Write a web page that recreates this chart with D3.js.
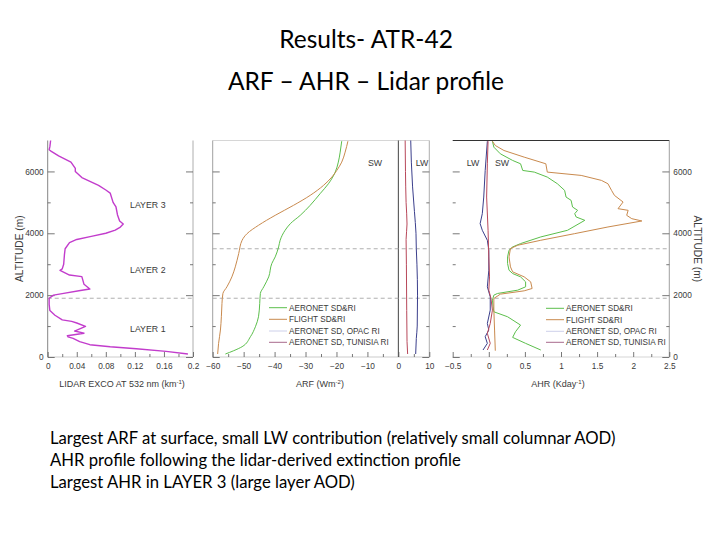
<!DOCTYPE html>
<html><head><meta charset="utf-8">
<script src="https://cdn.jsdelivr.net/npm/d3@7/dist/d3.min.js"></script>
<style>body{margin:0;background:#fff}svg{display:block}</style></head>
<body><svg id="c" width="720" height="540"></svg>
<script>
// ---------- data ----------
const titleLines = ["Results- ATR-42", "ARF \u2013 AHR \u2013 Lidar profile"];
const bodyLines = [
  "Largest ARF at surface, small LW contribution (relatively small columnar AOD)",
  "AHR profile following the lidar-derived extinction profile",
  "Largest AHR in LAYER 3 (large layer AOD)"
];
const altMajor = [0, 2000, 4000, 6000];
const altMinor = [1000, 3000, 5000];
const lidarLabels = [0, 0.04, 0.08, 0.12, 0.16, 0.2];
const lidarMinor = [0.02, 0.06, 0.10, 0.14, 0.18];
const arfLabels = [-60, -50, -40, -30, -20, -10, 0, 10];
const arfMinor = [-55, -45, -35, -25, -15, -5, 5];
const ahrLabels = [-0.5, 0, 0.5, 1, 1.5, 2, 2.5];
const ahrMinor = [-0.25, 0.25, 0.75, 1.25, 1.75, 2.25];
const layerLabels = [["LAYER 3", 4900], ["LAYER 2", 2800], ["LAYER 1", 900]];
const dashAlts = [3500, 1900];
const legendNames = ["AERONET SD&RI", "FLIGHT SD&RI", "AERONET SD, OPAC RI", "AERONET SD, TUNISIA RI"];
const legendColors = ["#5cbf4c", "#c98a4e", "#cdd0ea", "#a86a8c"];

// lidar extinction [km-1, altitude m]
const lidarExt = [[0.004,7000],[0.003,6800],[0.002,6700],[0.005,6650],[0.015,6500],[0.032,6300],[0.038,6100],[0.038,6000],[0.047,5800],[0.07,5550],[0.08,5400],[0.086,5300],[0.09,5000],[0.094,4850],[0.096,4600],[0.099,4400],[0.104,4300],[0.1,4200],[0.093,4100],[0.08,4000],[0.06,3900],[0.04,3800],[0.03,3700],[0.024,3500],[0.023,3300],[0.022,3000],[0.02,2850],[0.017,2800],[0.03,2650],[0.047,2600],[0.05,2350],[0.058,2200],[0.045,2150],[0.02,2050],[0.008,2000],[0.002,1900],[0.002,1700],[0.003,1500],[0.01,1350],[0.02,1200],[0.033,1150],[0.04,1100],[0.052,990],[0.037,840],[0.05,770],[0.027,688],[0.028,650],[0.035,600],[0.044,495],[0.058,398],[0.086,333],[0.122,269],[0.163,183],[0.193,97]];

// ARF [W m-2, altitude m]
const arfSwAeronet = [[-55.9,97],[-53.2,204],[-50.5,333],[-47.8,656],[-46.2,978],[-45.2,1301],[-44.8,1731],[-44.6,2054],[-43.5,2269],[-41.9,2591],[-40.9,3022],[-39.8,3237],[-38.7,3559],[-38.2,3774],[-36.6,4097],[-34.9,4312],[-31.7,4581],[-28.5,4903],[-25.3,5280],[-22.6,5602],[-20.4,5978],[-19.4,6301],[-18.8,6624],[-18.3,6978]];
const arfSwFlight = [[-58.4,97],[-58.1,441],[-57.5,871],[-57.2,1301],[-57.0,1731],[-56.7,2054],[-55.4,2269],[-53.8,2591],[-52.7,2914],[-51.6,3344],[-50.5,3774],[-48.9,3989],[-45.2,4258],[-39.8,4581],[-33.9,4903],[-28.5,5226],[-24.2,5548],[-21.5,5817],[-19.9,6032],[-18.3,6301],[-17.2,6624],[-16.3,6978]];
const arfLwA = [[5.6,97],[5.8,600],[6.1,1000],[6.2,2000],[6.0,3000],[5.8,3500],[5.7,4000],[5.2,4700],[4.6,5500],[4.2,6300],[4.0,7000]];
const arfLwB = [[3.0,97],[2.8,500],[2.7,1500],[2.6,3000],[2.5,3800],[2.8,4300],[2.5,5000],[2.3,6000],[2.2,7000]];

// AHR [K day-1, altitude m]
const ahrSwAeronet = [[0.72,226],[0.51,441],[0.33,634],[0.37,817],[0.44,1032],[0.26,1301],[0.07,1462],[0.06,1624],[0.05,1839],[0.07,2000],[0.12,2054],[0.40,2161],[0.51,2269],[0.51,2430],[0.44,2591],[0.33,2699],[0.28,2806],[0.26,3022],[0.26,3237],[0.28,3452],[0.33,3559],[0.44,3667],[0.72,3882],[1.09,4097],[1.33,4419],[1.21,4527],[1.19,4634],[1.23,4742],[1.16,4849],[1.14,5065],[1.07,5172],[1.05,5387],[0.95,5602],[0.81,5817],[0.63,5978],[0.47,6032],[0.44,6247],[0.33,6355],[0.16,6570],[0.07,6785],[0.05,6978]];
const ahrSwFlight = [[0.09,204],[0.08,871],[0.07,1516],[0.07,1892],[0.16,2032],[0.49,2140],[0.60,2215],[0.58,2430],[0.49,2591],[0.33,2753],[0.30,2914],[0.28,3237],[0.30,3505],[0.40,3613],[0.72,3774],[1.19,3989],[1.65,4204],[2.12,4398],[1.98,4473],[1.91,4581],[1.93,4742],[1.79,4796],[1.86,5011],[1.74,5226],[1.70,5387],[1.65,5602],[1.56,5710],[1.28,5871],[0.81,5978],[0.79,6247],[0.49,6462],[0.21,6677],[0.09,6839],[0.05,6978]];
const ahrLwA = [[-0.08,226],[-0.02,441],[-0.05,656],[0.0,871],[-0.02,1086],[0.02,1516],[0.02,1946],[-0.02,2269],[0.0,2806],[0.0,3452],[-0.02,3774],[-0.09,4097],[-0.12,4312],[-0.09,4634],[-0.07,5172],[-0.05,6032],[-0.02,6978]];
const ahrLwB = [[-0.02,226],[0.02,441],[-0.02,763],[0.02,1086],[0.05,1516],[0.03,1892],[0.0,2161],[0.01,2591],[0.0,3237],[-0.01,4097],[-0.03,5172],[-0.02,6247],[-0.01,6978]];

// ---------- drawing ----------
const svg = d3.select("#c");
svg.append("rect").attr("width",720).attr("height",540).attr("fill","#fff");

const FONT = "'Liberation Sans', Arial, sans-serif";
const TXT = "#3a3a3a";
const y = d3.scaleLinear().domain([0,7000]).range([357,140.5]);
const x1 = d3.scaleLinear().domain([0,0.2]).range([47.7,193]);
const x2 = d3.scaleLinear().domain([-60,10]).range([212.7,429.3]);
const x3 = d3.scaleLinear().domain([-0.5,2.5]).range([452.7,669.3]);

// titles
svg.selectAll("text.title").data(titleLines).join("text")
  .attr("x",366).attr("y",(d,i)=>48+i*42).attr("text-anchor","middle")
  .attr("font-family","Lato, 'Open Sans', sans-serif").attr("font-size",24.5).attr("fill","#000").text(d=>d);
svg.selectAll("text.body").data(bodyLines).join("text")
  .attr("x",50).attr("y",(d,i)=>444+i*22)
  .attr("font-family","Lato, 'Open Sans', sans-serif").attr("font-size",16.7).attr("fill","#000").text(d=>d);

function styleAxis(g){
  g.select(".domain").remove();
  g.selectAll("line").attr("stroke","#555").attr("stroke-width",0.8);
  g.selectAll("text").attr("font-family",FONT).attr("font-size",8.3).attr("fill",TXT);
}
function frameLine(x1_,y1_,x2_,y2_,col,w){
  svg.append("line").attr("x1",x1_).attr("y1",y1_).attr("x2",x2_).attr("y2",y2_)
    .attr("stroke",col).attr("stroke-width",w||0.8);
}
function xAxes(sc, labels, minor, fmt){
  svg.append("g").attr("transform","translate(0,357)")
    .call(d3.axisBottom(sc).tickValues(labels).tickSize(-5).tickPadding(6).tickFormat(fmt)).call(styleAxis);
  svg.append("g").attr("transform","translate(0,357)")
    .call(d3.axisBottom(sc).tickValues(minor).tickSize(-3).tickFormat("")).call(styleAxis);
}
function yTicks(xpos, left, showLabels){
  const ax = left ? d3.axisLeft(y) : d3.axisRight(y);
  svg.append("g").attr("transform",`translate(${xpos},0)`)
    .call(ax.tickValues(altMajor).tickSize(-7).tickPadding(4).tickFormat(showLabels? d3.format("d") : "")).call(styleAxis);
  const ax2 = left ? d3.axisLeft(y) : d3.axisRight(y);
  svg.append("g").attr("transform",`translate(${xpos},0)`)
    .call(ax2.tickValues(altMinor).tickSize(-3).tickFormat("")).call(styleAxis);
}
const line = (sx, curve) => d3.line().x(d=>sx(d[0])).y(d=>y(d[1])).curve(curve||d3.curveLinear);
function path(data, sx, col, w, curve){
  svg.append("path").datum(data).attr("d", line(sx,curve)).attr("fill","none")
    .attr("stroke",col).attr("stroke-width",w||1).attr("stroke-linejoin","round");
}
function label(x, yy, txt, size, anchor){
  return svg.append("text").attr("x",x).attr("y",yy).attr("text-anchor",anchor||"middle")
    .attr("font-family",FONT).attr("font-size",size).attr("fill",TXT).text(txt);
}
function dashLine(xa, xb, alt){
  svg.append("line").attr("x1",xa).attr("x2",xb).attr("y1",y(alt)).attr("y2",y(alt))
    .attr("stroke","#9a9a9a").attr("stroke-width",0.8).attr("stroke-dasharray","4,3");
}
function supLabel(x, yy, main, sup){
  const t = svg.append("text").attr("x",x).attr("y",yy).attr("text-anchor","middle")
    .attr("font-family",FONT).attr("font-size",9).attr("fill",TXT);
  t.append("tspan").text(main);
  t.append("tspan").attr("dy",-3).attr("font-size",6).text(sup);
  t.append("tspan").attr("dy",3).text(")");
}

// ----- panel 1: lidar -----
frameLine(x1(0),140.5,x1(0),357,"#666");
frameLine(x1(0.2),140.5,x1(0.2),357,"#999");
frameLine(x1(0),357,x1(0.2),357,"#aaa",0.6);
xAxes(x1, lidarLabels, lidarMinor, d=> d===0 ? "0" : d3.format(".2~f")(d));
yTicks(x1(0), true, true);
yTicks(x1(0.2), false, false);
dashLine(x1(0), x1(0.2), 1900);
path(lidarExt, x1, "#c23ccc", 1.4);
svg.selectAll("text.layer").data(layerLabels).join("text")
  .attr("x",130).attr("y",d=>y(d[1])+3).attr("font-family",FONT).attr("font-size",8.8).attr("fill",TXT).text(d=>d[0]);
svg.append("text").attr("transform",`translate(23,${y(3500)}) rotate(-90)`).attr("text-anchor","middle")
  .attr("font-family",FONT).attr("font-size",10.2).attr("fill",TXT).text("ALTITUDE (m)");
supLabel(122, 387, "LIDAR EXCO AT 532 nm (km", "-1");

// ----- panel 2: ARF -----
frameLine(x2(-60),140.5,x2(-60),357,"#888");
frameLine(x2(10),140.5,x2(10),357,"#999");
frameLine(x2(-60),140.5,x2(10),140.5,"#bbb",0.6);
frameLine(x2(-60),357,x2(10),357,"#aaa",0.6);
frameLine(x2(0),140.5,x2(0),357,"#444",1);
xAxes(x2, arfLabels, arfMinor, d3.format("d"));
yTicks(x2(-60), true, false);
yTicks(x2(10), false, false);
dashAlts.forEach(a=>dashLine(x2(-60), x2(10), a));
path(arfSwAeronet, x2, legendColors[0], 1, d3.curveMonotoneY);
path(arfSwFlight, x2, legendColors[1], 1, d3.curveMonotoneY);
path(arfLwA, x2, "#3b3f8c", 1, d3.curveMonotoneY);
path(arfLwB, x2, "#b8485a", 1, d3.curveMonotoneY);
label(375, 166, "SW", 8.8);
label(422, 166, "LW", 8.8);
supLabel(320, 387, "ARF (Wm", "-2");

// ----- panel 3: AHR -----
frameLine(x3(-0.5),140.5,x3(2.5),140.5,"#333",1.2);
frameLine(x3(2.5),140.5,x3(2.5),357,"#888");
frameLine(x3(-0.5),357,x3(2.5),357,"#bbb",0.6);
xAxes(x3, ahrLabels, ahrMinor, d3.format("~g"));
yTicks(x3(-0.5), true, false);
yTicks(x3(2.5), false, true);
dashAlts.forEach(a=>dashLine(x3(-0.5), x3(2.5), a));
path(ahrSwAeronet, x3, legendColors[0], 1);
path(ahrSwFlight, x3, legendColors[1], 1);
path(ahrLwA, x3, "#3b3f8c", 1);
path(ahrLwB, x3, "#b8485a", 1);
label(473, 166, "LW", 8.8);
label(502, 166, "SW", 8.8);
supLabel(558, 387, "AHR (Kday", "-1");
svg.append("text").attr("transform",`translate(694,${y(3500)}) rotate(90)`).attr("text-anchor","middle")
  .attr("font-family",FONT).attr("font-size",10.2).attr("fill",TXT).text("ALTITUDE (m)");

// ----- legends -----
function legend(x0, xt, ys){
  const g = svg.append("g");
  legendNames.forEach((n,i)=>{
    g.append("line").attr("x1",x0).attr("x2",x0+18).attr("y1",ys[i]).attr("y2",ys[i])
      .attr("stroke",legendColors[i]).attr("stroke-width",1);
    g.append("text").attr("x",xt).attr("y",ys[i]+3.1).attr("font-family",FONT).attr("font-size",8.2)
      .attr("fill",TXT).text(n);
  });
}
legend(269, 289, [307.7,319.3,331,342.3]);
legend(546, 566, [308.3,319.7,331.3,342.3]);
</script>
</body></html>
